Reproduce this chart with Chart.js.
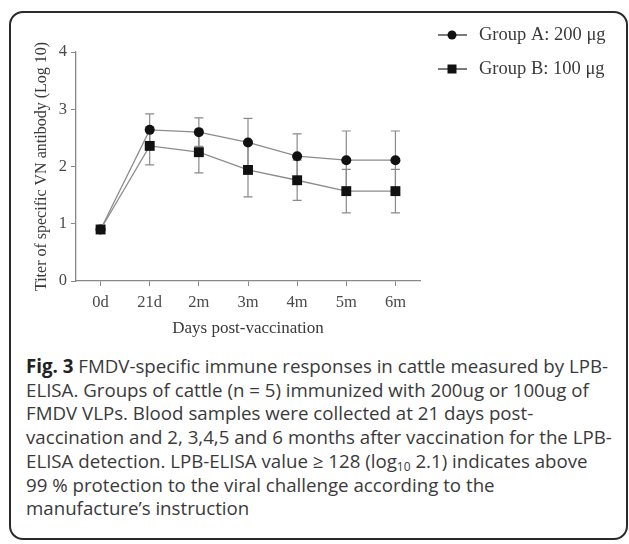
<!DOCTYPE html>
<html>
<head>
<meta charset="utf-8">
<script src="https://cdn.jsdelivr.net/npm/chart.js@4.4.1/dist/chart.umd.min.js"></script>
<style>
  html, body { margin: 0; padding: 0; background: #fff; }
  body { width: 629px; height: 544px; position: relative; overflow: hidden; }
  #frame {
    position: absolute; left: 9px; top: 11px; width: 615px; height: 525px;
    border: 2px solid #2a2a2a; border-radius: 14px;
  }
  #chart { position: absolute; left: 0; top: 0; }
  #caption {
    position: absolute; left: 26px; top: 354px; width: 600px;
    font-family: "Open Sans", sans-serif; font-size: 18.7px; line-height: 23.7px;
    color: #3a3a3a; white-space: nowrap;
  }
  #caption b { font-weight: 700; color: #222; }
  #caption sub { font-size: 12px; line-height: 0; vertical-align: -3px; }
</style>
</head>
<body>
<div id="frame"></div>
<canvas id="chart" width="629" height="350"></canvas>
<div id="caption">
<b>Fig. 3</b> FMDV-specific immune responses in cattle measured by LPB-<br>
ELISA. Groups of cattle (n = 5) immunized with 200ug or 100ug of<br>
FMDV VLPs. Blood samples were collected at 21 days post-<br>
vaccination and 2, 3,4,5 and 6 months after vaccination for the LPB-<br>
ELISA detection. LPB-ELISA value ≥ 128 (log<sub>10</sub> 2.1) indicates above<br>
99 % protection to the viral challenge according to the<br>
manufacture’s instruction
</div>
<script>
// --- DATA ---
const categories = ['0d', '21d', '2m', '3m', '4m', '5m', '6m'];
const seriesLabels = ['Group A: 200 μg', 'Group B: 100 μg'];
const groupA = [0.9, 2.64, 2.60, 2.42, 2.18, 2.11, 2.11];
const groupAErr = [0, 0.28, 0.25, 0.42, 0.39, 0.51, 0.51];
const groupB = [0.9, 2.36, 2.25, 1.94, 1.76, 1.57, 1.57];
const groupBErr = [0, 0.33, 0.36, 0.47, 0.35, 0.38, 0.38];
const yTicks = [0, 1, 2, 3, 4];

const errors = [groupAErr, groupBErr];
const pointStyles = ['circle', 'rect'];
const pointRadii = [5, 7];

// error bars, drawn under the markers
const errorBarPlugin = {
    id: 'errorBars',
    beforeDatasetsDraw(chart) {
        const ctx = chart.ctx;
        const x = chart.scales.x, y = chart.scales.y;
        ctx.save();
        ctx.strokeStyle = '#8a8a8a';
        ctx.lineWidth = 1.2;
        chart.data.datasets.forEach((ds, di) => {
            ds.data.forEach((v, i) => {
                const e = errors[di][i];
                if (!e) return;
                const px = x.getPixelForValue(i);
                const top = y.getPixelForValue(v + e);
                const bot = y.getPixelForValue(v - e);
                ctx.beginPath();
                ctx.moveTo(px, top); ctx.lineTo(px, bot);
                ctx.moveTo(px - 4.5, top); ctx.lineTo(px + 4.5, top);
                ctx.moveTo(px - 4.5, bot); ctx.lineTo(px + 4.5, bot);
                ctx.stroke();
            });
        });
        ctx.restore();
    }
};

// legend in the top right: line through a marker, then the label
const legendPlugin = {
    id: 'sideLegend',
    afterDraw(chart) {
        const ctx = chart.ctx;
        const rows = [35, 69];
        ctx.save();
        chart.data.datasets.forEach((ds, di) => {
            const yy = rows[di];
            ctx.strokeStyle = '#333';
            ctx.lineWidth = 1.3;
            ctx.beginPath(); ctx.moveTo(438, yy); ctx.lineTo(467, yy); ctx.stroke();
            ctx.fillStyle = '#111';
            ctx.beginPath();
            if (pointStyles[di] === 'circle') ctx.arc(452, yy, 4.5, 0, Math.PI * 2);
            else ctx.rect(447.5, yy - 4.5, 9, 9);
            ctx.fill();
            ctx.fillStyle = '#3a3a3a';
            ctx.font = '18.5px "Liberation Serif", "Times New Roman", serif';
            ctx.textBaseline = 'middle';
            ctx.fillText(ds.label, 479, yy);
        });
        ctx.restore();
    }
};

const serifFont = '"Liberation Serif", "Times New Roman", serif';

new Chart(document.getElementById('chart'), {
    type: 'line',
    data: {
        labels: categories,
        datasets: [groupA, groupB].map((d, i) => ({
            label: seriesLabels[i],
            data: d,
            borderColor: '#8c8c8c',
            borderWidth: 1.3,
            pointStyle: pointStyles[i],
            pointRadius: pointRadii[i],
            pointBackgroundColor: '#111',
            pointBorderColor: '#111',
            pointBorderWidth: 0,
            tension: 0,
            fill: false
        }))
    },
    plugins: [errorBarPlugin, legendPlugin],
    options: {
        responsive: false,
        animation: false,
        layout: { padding: { left: 32, right: 209, top: 52, bottom: 0 } },
        plugins: { legend: { display: false }, tooltip: { enabled: false } },
        scales: {
            x: {
                offset: true,
                grid: { display: true, drawOnChartArea: false, tickLength: 5, color: '#888', offset: false },
                border: { color: '#888', width: 1.3 },
                ticks: { color: '#4a4a4a', padding: 7, font: { family: serifFont, size: 16.5 } },
                title: { display: true, text: 'Days post-vaccination', color: '#3a3a3a',
                         padding: { top: 0, bottom: 11 }, font: { family: serifFont, size: 17 } },
                afterFit(scale) { scale.height = 69; }
            },
            y: {
                min: 0, max: 4,
                afterBuildTicks(scale) { scale.ticks = yTicks.map(v => ({ value: v })); },
                grid: { display: true, drawOnChartArea: false, tickLength: 5, color: '#888' },
                border: { color: '#888', width: 1.3 },
                ticks: { color: '#4a4a4a', padding: 4, font: { family: serifFont, size: 16.5 } },
                title: { display: true, text: 'Titer of specific VN antibody (Log 10)', color: '#3a3a3a',
                         padding: { top: 0, bottom: 0 }, font: { family: serifFont, size: 16 } },
                afterFit(scale) { scale.width = 44; }
            }
        }
    }
});
</script>
</body>
</html>
